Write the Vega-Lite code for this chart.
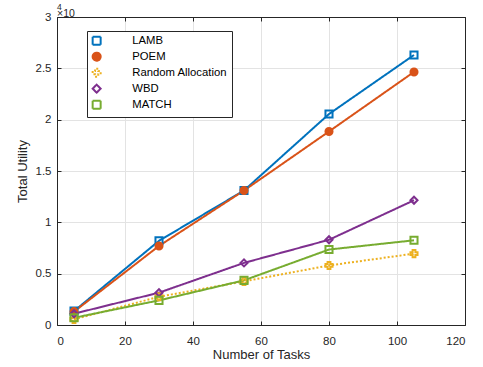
{
  "$schema": "https://vega.github.io/schema/vega-lite/v6.json",
  "width": 408,
  "height": 308,
  "autosize": "none",
  "padding": {"left": 57, "top": 17, "right": 18, "bottom": 42},
  "background": "white",
  "title": {"text": "\u00a0\u00a0\u00a0\u00a0\u00a0\u00a0\u00a0\u00a04", "subtitle": "×10"},
  "config": {
    "view": {"stroke": null},
    "title": {"anchor": "start", "frame": "group", "fontSize": 8.5, "subtitleFontSize": 10.5, "fontWeight": "normal", "font": "Liberation Sans", "subtitleFont": "Liberation Sans", "color": "#262626", "subtitleColor": "#262626", "offset": -8, "subtitlePadding": -3},
    "axis": {"labelFont": "Liberation Sans", "titleFont": "Liberation Sans", "labelFontSize": 11.5, "titleFontSize": 13, "titleFontWeight": "normal", "labelColor": "#262626", "titleColor": "#262626", "domainColor": "#262626", "tickColor": "#262626", "gridColor": "#e3e3e3", "gridWidth": 1, "tickSize": -4}
  },
  "data": {"values": [
    {"series": "LAMB", "tasks": 5, "utility": 1350},
    {"series": "LAMB", "tasks": 30, "utility": 8200},
    {"series": "LAMB", "tasks": 55, "utility": 13100},
    {"series": "LAMB", "tasks": 80, "utility": 20550},
    {"series": "LAMB", "tasks": 105, "utility": 26300},
    {"series": "POEM", "tasks": 5, "utility": 1300},
    {"series": "POEM", "tasks": 30, "utility": 7700},
    {"series": "POEM", "tasks": 55, "utility": 13100},
    {"series": "POEM", "tasks": 80, "utility": 18850},
    {"series": "POEM", "tasks": 105, "utility": 24650},
    {"series": "Random Allocation", "tasks": 5, "utility": 550},
    {"series": "Random Allocation", "tasks": 30, "utility": 2750},
    {"series": "Random Allocation", "tasks": 55, "utility": 4250},
    {"series": "Random Allocation", "tasks": 80, "utility": 5800},
    {"series": "Random Allocation", "tasks": 105, "utility": 6950},
    {"series": "WBD", "tasks": 5, "utility": 1100},
    {"series": "WBD", "tasks": 30, "utility": 3150},
    {"series": "WBD", "tasks": 55, "utility": 6050},
    {"series": "WBD", "tasks": 80, "utility": 8300},
    {"series": "WBD", "tasks": 105, "utility": 12150},
    {"series": "MATCH", "tasks": 5, "utility": 700},
    {"series": "MATCH", "tasks": 30, "utility": 2400},
    {"series": "MATCH", "tasks": 55, "utility": 4350},
    {"series": "MATCH", "tasks": 80, "utility": 7350},
    {"series": "MATCH", "tasks": 105, "utility": 8250}
  ]},
  "resolve": {"axis": {"x": "independent", "y": "independent"}},
  "layer": [
    {
      "mark": {"type": "line", "strokeWidth": 2},
      "encoding": {
        "x": {"field": "tasks", "type": "quantitative", "scale": {"domain": [0, 120], "nice": false, "zero": false},
              "axis": {"title": "Number of Tasks", "values": [0, 20, 40, 60, 80, 100, 120], "labelPadding": 14, "titlePadding": 2}},
        "y": {"field": "utility", "type": "quantitative", "scale": {"domain": [0, 30000], "nice": false},
              "axis": {"title": "Total Utility", "values": [0, 5000, 10000, 15000, 20000, 25000, 30000], "labelExpr": "datum.value / 10000", "labelPadding": 10, "titlePadding": 6}},
        "color": {"field": "series", "type": "nominal",
          "scale": {"domain": ["LAMB", "POEM", "Random Allocation", "WBD", "MATCH"], "range": ["#0072BD", "#D95319", "#EDB120", "#7E2F8E", "#77AC30"]},
          "legend": {
            "title": null, "orient": "none", "legendX": 30, "legendY": 14,
            "padding": 4, "strokeColor": "#262626", "fillColor": "white",
            "labelFont": "Liberation Sans", "labelFontSize": 11.3, "labelColor": "black", "labelOffset": 30,
            "symbolSize": 64, "rowPadding": -1, "symbolStrokeWidth": 2
          }},
        "strokeDash": {"field": "series", "type": "nominal",
          "scale": {"domain": ["LAMB", "POEM", "Random Allocation", "WBD", "MATCH"], "range": [[1, 0], [1, 0], [2, 2], [1, 0], [1, 0]]},
          "legend": null}
      }
    },
    {
      "mark": {"type": "point", "filled": false, "strokeWidth": 2, "size": 50, "opacity": 1},
      "encoding": {
        "x": {"field": "tasks", "type": "quantitative", "axis": {"orient": "top", "labels": false, "title": null, "grid": false, "values": [0, 20, 40, 60, 80, 100, 120]}},
        "y": {"field": "utility", "type": "quantitative", "axis": {"orient": "right", "labels": false, "title": null, "grid": false, "values": [0, 5000, 10000, 15000, 20000, 25000, 30000]}},
        "color": {"field": "series", "type": "nominal"},
        "shape": {"field": "series", "type": "nominal",
          "scale": {"domain": ["LAMB", "POEM", "Random Allocation", "WBD", "MATCH"], "range": ["square", "circle", "cross", "diamond", "square"]},
          "legend": null},
        "fill": {"field": "series", "type": "nominal",
          "scale": {"domain": ["LAMB", "POEM", "Random Allocation", "WBD", "MATCH"], "range": ["transparent", "#D95319", "transparent", "transparent", "transparent"]},
          "legend": null}
      }
    }
  ]
}
